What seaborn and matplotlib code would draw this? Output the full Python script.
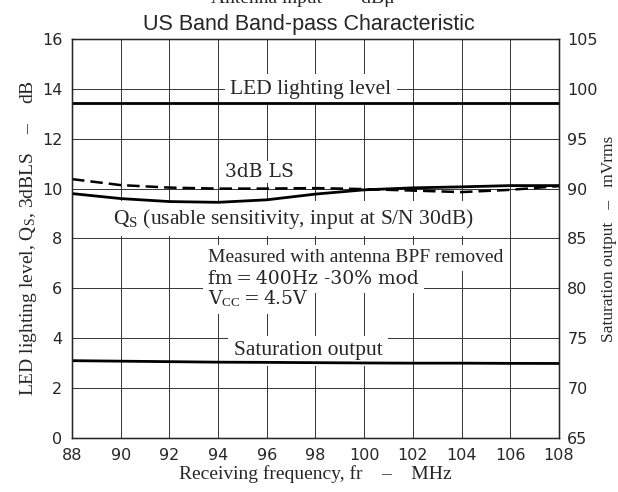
import numpy as np
import pandas as pds
import seaborn as sns
import matplotlib.pyplot as plt

# frequency grid (MHz) and readings
FREQ = [88, 90, 92, 94, 96, 98, 100, 102, 104, 106, 108]
LED_LEVEL = [13.45, 13.45, 13.45, 13.45, 13.45, 13.45, 13.45, 13.45, 13.45, 13.45, 13.45]
LS_3DB = [10.38, 10.14, 10.04, 10.0, 10.0, 10.02, 9.98, 9.92, 9.86, 9.95, 10.1]
QS = [9.8, 9.6, 9.48, 9.45, 9.55, 9.78, 9.95, 10.03, 10.07, 10.12, 10.12]
SAT_OUT = [72.75, 72.7, 72.65, 72.6, 72.58, 72.55, 72.52, 72.5, 72.5, 72.48, 72.47]  # mVrms

X_TICKS = list(range(88, 109, 2))
Y_TICKS = list(range(0, 17, 2))
Y2_TICKS = list(range(65, 106, 5))

SERIF = 'Liberation Serif'
TICKFONT = 'DejaVu Sans'
BOX = dict(facecolor='white', edgecolor='none', boxstyle='square,pad=0.25')

sns.set_style("white")
plt.rcParams['font.family'] = [SERIF, 'DejaVu Serif']
plt.rcParams['mathtext.fontset'] = 'custom'
plt.rcParams['mathtext.rm'] = SERIF
plt.rcParams['mathtext.it'] = SERIF + ':italic'

df = pds.DataFrame({'f': FREQ, 'led': LED_LEVEL, 'ls': LS_3DB, 'qs': QS,
                    'sat': [(v - 65) / 2.5 for v in SAT_OUT]})

fig = plt.figure(figsize=(6.18, 4.92), dpi=100)
ax = fig.add_axes([0.1165, 0.1098, 0.788, 0.811])

sns.lineplot(data=df, x='f', y='led', ax=ax, color='black', lw=2.0)
sns.lineplot(data=df, x='f', y='qs', ax=ax, color='black', lw=2.0)
sns.lineplot(data=df, x='f', y='ls', ax=ax, color='black', lw=1.8)
ax.lines[-1].set_dashes((5, 2.4))
sns.lineplot(data=df, x='f', y='sat', ax=ax, color='black', lw=2.0)

ax.set_xlim(88, 108)
ax.set_ylim(0, 16)
ax.set_xticks(X_TICKS)
ax.set_yticks(Y_TICKS)
ax.grid(True, color='#333333', lw=0.7)
for s in ax.spines.values():
    s.set_color('black')
    s.set_linewidth(1.0)
ax.tick_params(length=0, pad=7, labelsize=11.5)
for t in ax.get_xticklabels() + ax.get_yticklabels():
    t.set_family(TICKFONT)

ax.set_xlabel('Receiving frequency, fr    –    MHz', fontsize=14, labelpad=2)
ax.set_ylabel('LED lighting level, $\\mathrm{Q_S}$, 3dBLS    –    dB', fontsize=14, labelpad=2)

ax2 = ax.twinx()
ax2.set_ylim(65, 105)
ax2.set_yticks(Y2_TICKS)
ax2.tick_params(length=0, pad=6, labelsize=11.5)
for t in ax2.get_yticklabels():
    t.set_family(TICKFONT)
ax2.set_ylabel('Saturation output   –   mVrms', fontsize=12.5, labelpad=2)
ax2.grid(False)

# white boxes sit over the grid but under the curves
ax.text(97.8, 13.8, 'LED lighting level', ha='center', va='baseline', fontsize=15.5, bbox=BOX, zorder=1.1)
ax.text(95.7, 10.48, '3dB LS', ha='center', va='baseline', fontsize=13.5, family='DejaVu Serif',
        bbox=dict(facecolor='white', edgecolor='none', boxstyle='square,pad=0.1'), zorder=1.1)
ax.text(89.68, 8.6, '$\\mathrm{Q_S}$ (usable sensitivity, input at S/N 30dB)', ha='left', va='baseline',
        fontsize=15.5, bbox=BOX, zorder=1.1)
ax.text(93.59, 7.04, 'Measured with antenna BPF removed', ha='left', va='baseline', fontsize=14,
        bbox=BOX, zorder=1.2)
ax.text(93.59, 6.16, 'fm\u2009=\u2009400Hz -30% mod', ha='left', va='baseline', fontsize=13.5,
        family='DejaVu Serif', bbox=BOX, zorder=1.3)
ax.text(93.59, 5.36, 'V$_{\\mathrm{CC}}$\u2009=\u20094.5V', ha='left', va='baseline', fontsize=13.5,
        family='DejaVu Serif', bbox=BOX, zorder=1.4)
ax.text(97.7, 3.32, 'Saturation output', ha='center', va='baseline', fontsize=15.5, bbox=BOX, zorder=1.1)

fig.text(0.5, 0.94, 'US Band Band-pass Characteristic', ha='center', va='baseline',
         fontsize=15.5, family='Liberation Sans')
fig.text(0.49, 0.994, 'Antenna input   –   dBμ', ha='center', va='baseline', fontsize=14)

fig.savefig('out.png', dpi=100)
